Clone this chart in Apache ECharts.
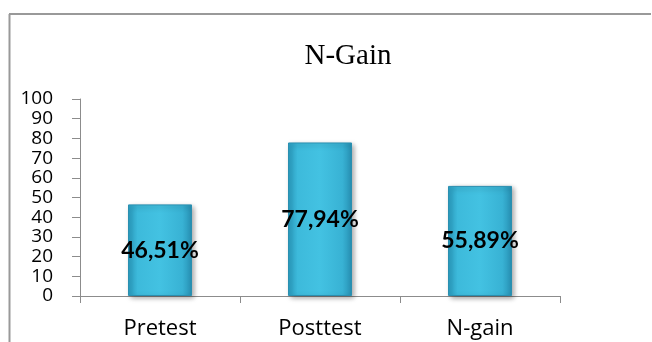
<!DOCTYPE html>
<html>
<head>
<meta charset="utf-8">
<script src="https://cdn.jsdelivr.net/npm/echarts@6/dist/echarts.min.js"></script>
<style>
html,body{margin:0;padding:0;background:#fff}
#main{width:652px;height:342px}
</style>
</head>
<body>
<div id="main"></div>
<script>
var categories = ['Pretest', 'Posttest', 'N-gain']
var values = [46.51, 77.94, 55.89]
var valueLabels = ['46,51%', '77,94%', '55,89%']

var chart = echarts.init(document.getElementById('main'))

var barColor = new echarts.graphic.LinearGradient(0, 0, 1, 0, [
	{offset: 0, color: '#2a9ec2'},
	{offset: 0.15, color: '#3dbadb'},
	{offset: 0.5, color: '#43c2e2'},
	{offset: 0.85, color: '#38b2d4'},
	{offset: 1, color: '#2790b3'}
])

var option = {
	animation: false,
	title: {
		text: 'N-Gain',
		left: 343,
		top: 37,
		textAlign: 'center',
		textStyle: {
			fontFamily: 'Liberation Serif',
			fontWeight: 'normal',
			fontSize: 29,
			color: '#000'
		}
	},
	grid: {left: 80, right: 92, top: 99, bottom: 46},
	xAxis: {
		type: 'category',
		data: categories,
		axisLine: {lineStyle: {color: '#8c8c8c', width: 1}},
		axisTick: {show: true, length: 7, lineStyle: {color: '#8c8c8c'}},
		axisLabel: {
			margin: 22,
			fontFamily: 'Open Sans',
			fontSize: 22,
			color: '#000'
		}
	},
	yAxis: {
		type: 'value',
		min: 0,
		max: 100,
		interval: 10,
		splitLine: {show: false},
		axisLine: {show: true, lineStyle: {color: '#8c8c8c', width: 1}},
		axisTick: {show: true, length: 8, lineStyle: {color: '#8c8c8c'}},
		axisLabel: {
			margin: 27,
			fontFamily: 'Open Sans',
			fontSize: 19,
			color: '#000'
		}
	},
	series: [{
		type: 'bar',
		data: values,
		barWidth: '40%',
		itemStyle: {
			color: barColor,
			borderColor: '#2a8fb0',
			borderWidth: 1,
			shadowColor: 'rgba(0,0,0,0.35)',
			shadowBlur: 5,
			shadowOffsetX: 2,
			shadowOffsetY: 2
		},
		label: {
			show: true,
			position: 'inside',
			formatter: function(p) { return valueLabels[p.dataIndex] },
			fontFamily: 'Lato',
			fontWeight: 'bold',
			fontSize: 23,
			color: '#000'
		}
	}],
	graphic: [
		{type: 'line', shape: {x1: 9.5, y1: 14, x2: 9.5, y2: 342}, style: {stroke: '#999', lineWidth: 2}},
		{type: 'line', shape: {x1: 9, y1: 14, x2: 651, y2: 14}, style: {stroke: '#999', lineWidth: 2}}
	]
}

chart.setOption(option)
</script>
</body>
</html>
